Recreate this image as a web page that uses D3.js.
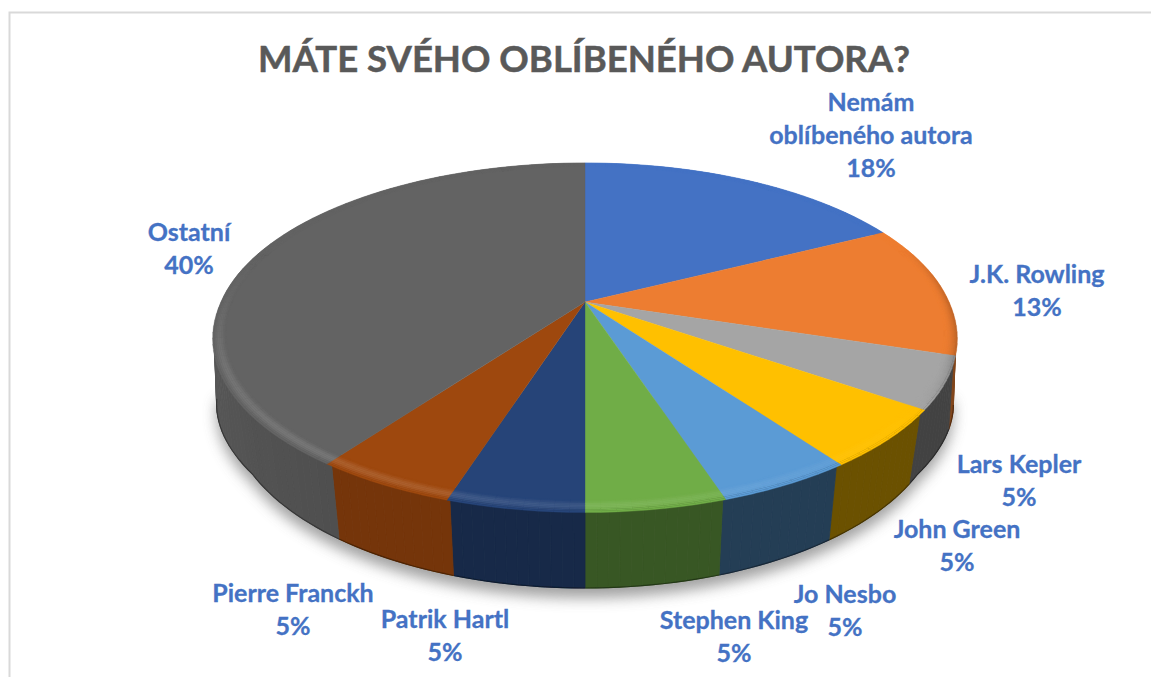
<!DOCTYPE html>
<html><head><meta charset="utf-8">
<script src="https://cdn.jsdelivr.net/npm/d3@7"></script>
<style>html,body{margin:0;padding:0;background:#fff}svg{display:block}text{font-family:Lato,sans-serif;font-weight:700}</style>
</head><body><svg id="c" width="1151" height="677"></svg>
<script>
const title = "MÁTE SVÉHO OBLÍBENÉHO AUTORA?";
const categories = ["Nemám oblíbeného autora","J.K. Rowling","Lars Kepler","John Green","Jo Nesbo","Stephen King","Patrik Hartl","Pierre Franckh","Ostatní"];
const labelPercents = [18,13,5,5,5,5,5,5,40];
const sliceShares = [17.5,12.4,4.8,5.4,4.9,5,4.9,5.1,40];
const colors = ["#4472C4","#ED7D31","#A5A5A5","#FFC000","#5B9BD5","#70AD47","#264478","#9E480E","#636363"];
const wallShade = [0.5,0.55,0.4,0.42,0.4,0.5,0.6,0.74,0.86];
const labelLines = [["Nemám","oblíbeného autora"],["J.K. Rowling"],["Lars Kepler"],["John Green"],["Jo Nesbo"],["Stephen King"],["Patrik Hartl"],["Pierre Franckh"],["Ostatní"]];
const labelAnchors = [[871,111],[1037,283],[1019,473],[957,538],[845,603],[734,629],[445,628],[293,602],[189,241]];

const svg = d3.select("#c");
const defs = svg.append("defs");
defs.append("filter").attr("id","soft").attr("x","-20%").attr("y","-20%").attr("width","140%").attr("height","140%")
  .append("feGaussianBlur").attr("stdDeviation",7);
defs.append("filter").attr("id","tiny").append("feGaussianBlur").attr("stdDeviation",0.6);

// frame
svg.append("path").attr("d","M9.5,677V12.5H1151").attr("fill","none").attr("stroke","#d9d9d9").attr("stroke-width",2);

// Perspective projection of a disc
const cx = 585;
const topDisc = {y0:302,a:364,b:166,k:0.194}, lowDisc = {y0:374.6,a:348,b:169,k:0.208,flare:14};
const project = (disc,t,r=1)=>{
  const u=Math.sin(t)*r, v=-Math.cos(t)*r, d=1-disc.k*v;
  const a=disc.a+(disc.flare||0)*Math.max(0,(Math.abs(Math.sin(t))-0.85)/0.15);
  return [cx+a*u/d, disc.y0+disc.b*v/d];
};
const line = d3.line();
const pie = d3.pie().sort(null).startAngle(0).endAngle(2*Math.PI);
const arcs = pie(sliceShares);
const deg = Math.PI/180;
const steps = (a,b,n)=>d3.range(n+1).map(i=>a+(b-a)*i/n);
const mix = (c,f)=>{
  const r=d3.rgb(c);
  if(f<=1) return d3.rgb(r.r*f,r.g*f,r.b*f)+"";
  const g=f-1; return d3.rgb(r.r+(255-r.r)*g,r.g+(255-r.g)*g,r.b+(255-r.b)*g)+"";
};

// ground shadow
svg.append("path").attr("filter","url(#soft)").attr("fill","#8a8a8a").attr("opacity",.8)
  .attr("d",line(steps(95*deg,265*deg,120).map(t=>{const p=project(lowDisc,t);return [p[0],p[1]+10];}))+"Z");

const wallMin = 100*deg, wallMax = 262*deg;
const walls = svg.append("g"), tops = svg.append("g"), bevels = svg.append("g");

arcs.forEach((d,i)=>{
  // side wall
  const a0=Math.max(d.startAngle,wallMin), a1=Math.min(d.endAngle,wallMax);
  if(a1>a0){
    const n=Math.ceil((a1-a0)/(1.5*deg));
    const ts=steps(a0,a1,n);
    ts.slice(0,-1).forEach((t,j)=>{
      const t2=ts[j+1];
      const up=steps(t,t2,2).map(x=>project(topDisc,x));
      const lo=steps(t2,t,2).map(x=>project(lowDisc,x));
      const f=wallShade[i]*(i===8?(0.93+0.1*(t-a0)/(a1-a0)):1);
      const col=mix(colors[i],f);
      walls.append("path").attr("d",line(up.concat(lo))+"Z").attr("fill",col).attr("stroke",col).attr("stroke-width",.8);
    });
    walls.append("path").attr("d",line(ts.map(x=>project(lowDisc,x))))
      .attr("fill","none").attr("stroke",mix(colors[i],wallShade[i]*.65)).attr("stroke-width",1.2).attr("filter","url(#tiny)");
  }
  // top face
  const rim=steps(d.startAngle,d.endAngle,Math.ceil((d.endAngle-d.startAngle)/(2*deg))).map(t=>project(topDisc,t));
  tops.append("path").datum(d).attr("d",line([[cx,topDisc.y0]].concat(rim))+"Z")
    .attr("fill",colors[i]).attr("stroke",colors[i]).attr("stroke-width",.4);

  // bevel: rings with light depending on direction
  const rings=d3.range(0,8);
  const n=Math.ceil((d.endAngle-d.startAngle)/(2*deg));
  const ts=steps(d.startAngle,d.endAngle,n);
  ts.slice(0,-1).forEach((t,j)=>{
    const tm=(t+ts[j+1])/2;
    const t2=ts[j+1];
    const light=Math.cos(tm-215*deg);
    const lowerW=Math.max(0,Math.min(1,(Math.cos(tm-Math.PI)+0.35)/0.7));
    const rIn=0.968, rOut=1+0.018*Math.max(0,Math.cos(tm-Math.PI)), dr=(rOut-rIn)/8;
    rings.forEach(q=>{
      const r0=rIn+q*dr, r1=r0+dr;
      const prof=Math.pow(Math.sin(Math.PI*(q+.5)/8),2);
      const up=light>0?light:0, dn=light<0?-light:0;
      let f=1+up*prof*0.13*lowerW;
      if(dn>0){ f=1-dn*(q/7)*(q/7)*0.6*lowerW; }
      const poly=[project(topDisc,t,r0),project(topDisc,t2,r0),project(topDisc,t2,r1),project(topDisc,t,r1)];
      const col=mix(colors[i],f);
      bevels.append("path").attr("d",line(poly)+"Z").attr("fill",col).attr("stroke",col).attr("stroke-width",.3);
    });
  });
});

// title
svg.append("text").attr("x",584).attr("y",72).attr("text-anchor","middle").attr("font-size",36.5).attr("fill","#595959")
  .attr("stroke","#595959").attr("stroke-width",.5).text(title);

// labels
const lineGap=33;
categories.forEach((c,i)=>{
  const [x,y]=labelAnchors[i];
  const lines=labelLines[i].concat([labelPercents[i]+"%"]);
  const t=svg.append("text").attr("text-anchor","middle").attr("font-size",25).attr("fill","#4472C4")
    .attr("stroke","#4472C4").attr("stroke-width",.3);
  lines.forEach((s,j)=>t.append("tspan").attr("x",x).attr("y",y+j*lineGap).text(s));
});
</script></body></html>
